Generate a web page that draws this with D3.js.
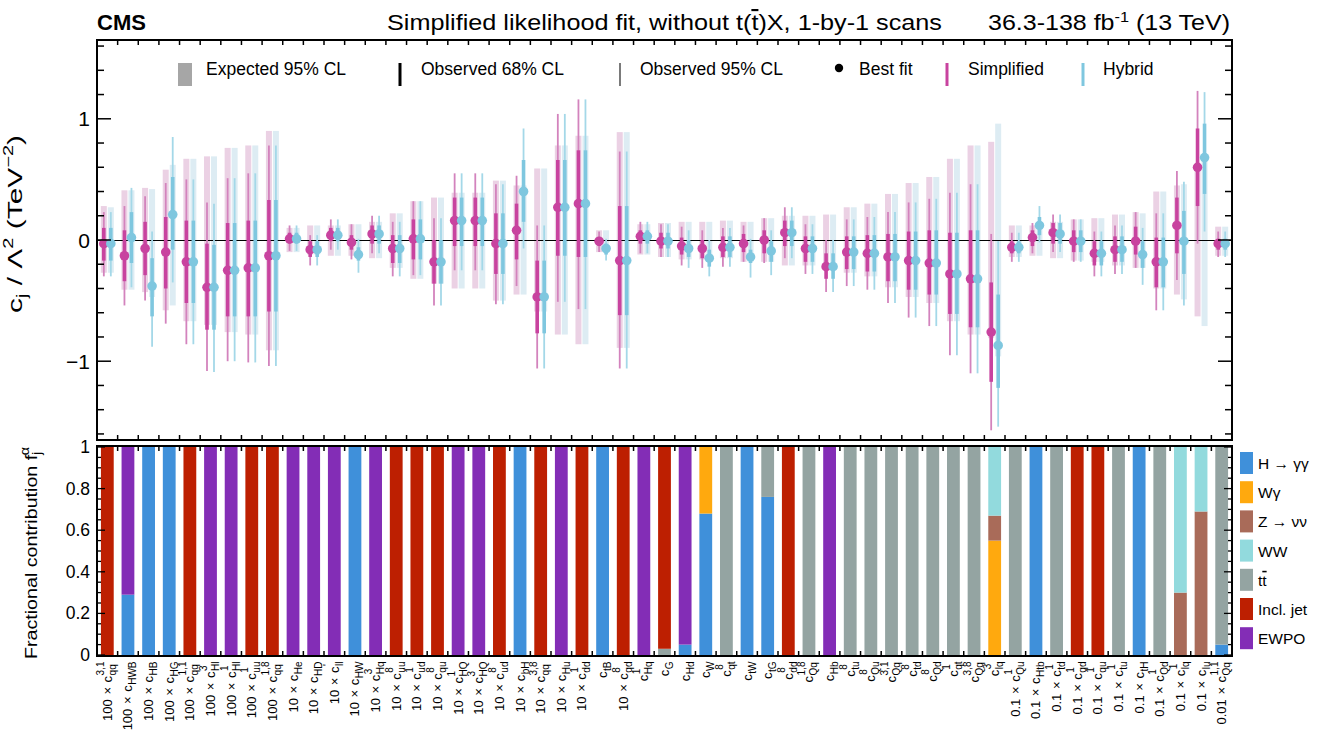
<!DOCTYPE html>
<html>
<head>
<meta charset="utf-8">
<title>SMEFT 1-by-1 scans</title>
<script src="https://cdn.jsdelivr.net/npm/d3@7"></script>
<style>
  body { margin: 0; background: #fff; }
  svg text { font-family: "Liberation Sans", Arial, Helvetica, sans-serif; fill: #000; }
</style>
</head>
<body>
<div id="chart"></div>
<script>
// ---- coefficient labels (scale factor, subscript, superscript) ----
var labelScale = ["100","100","100","100","100","100","100","100","100","10",
                  "10","10","10","10","10","10","10","10","10","10",
                  "10","10","10","10","","10","","","","",
                  "","","","","","","","","","",
                  "","","","","0.1","0.1","0.1","0.1","0.1","0.1",
                  "0.1","0.1","0.1","0.1","0.01"];
var labelSub = ["qq","HWB","HB","HG","qq","Hl","Hl","uu","qq","He",
                "HD","ll","HW","Hq","uu","ud","qu","HQ","HQ","ud",
                "bH","qq","Hu","dd","tB","qd","Hq","G","Hd","W",
                "qt","tW","tG","dd","Qq","Hb","tu","Qu","Qq","td",
                "Qd","qt","Qq","lq","Qu","Htb","td","qd","qu","tu",
                "tH","Qd","lq","lu","Qq"];
var labelSup = ["3,1","","","","1,1","3","1","1","1,8","",
                "","'","","3","8","1","8","1","3","8",
                "","3,8","","1","","8","1","","","",
                "8","","","8","1,8","","8","8","3,1","8",
                "8","1","3,8","3","1","","1","1","1","1",
                "","1","1","","1,1"];

// ---- Simplified likelihood ----
var simBest = [-0.03,-0.13,-0.07,-0.10,-0.18,-0.39,-0.25,-0.23,-0.13,0.01,
               -0.08,0.04,-0.02,0.05,-0.07,0.01,-0.18,0.16,0.16,-0.03,
               0.08,-0.47,0.27,0.30,-0.01,-0.17,0.03,-0.01,-0.05,-0.07,
               -0.06,-0.03,0.00,0.06,-0.07,-0.22,-0.10,-0.11,-0.14,-0.17,
               -0.19,-0.28,-0.32,-0.76,-0.06,0.02,0.06,-0.01,-0.11,-0.08,
               -0.01,-0.18,0.12,0.60,-0.03];
var sim68Lo = [-0.17,-0.34,-0.29,-0.40,-0.52,-0.74,-0.63,-0.63,-0.59,-0.03,
               -0.14,-0.01,-0.08,-0.03,-0.19,-0.16,-0.36,-0.05,-0.05,-0.28,
               -0.16,-0.77,-0.13,-0.14,-0.05,-0.62,-0.03,-0.07,-0.12,-0.15,
               -0.14,-0.10,-0.11,-0.05,-0.18,-0.32,-0.24,-0.26,-0.34,-0.41,
               -0.45,-0.61,-0.72,-1.17,-0.11,-0.05,-0.03,-0.10,-0.21,-0.18,
               -0.12,-0.39,-0.11,0.28,-0.08];
var sim68Hi = [0.10,0.08,0.15,0.19,0.16,-0.03,0.14,0.16,0.33,0.06,
               -0.01,0.10,0.04,0.12,0.04,0.17,0.00,0.35,0.35,0.22,
               0.30,-0.17,0.66,0.74,0.01,0.28,0.08,0.06,0.02,0.00,
               0.03,0.05,0.08,0.16,0.03,-0.11,0.03,0.04,0.05,0.07,
               0.08,0.06,0.08,-0.35,-0.01,0.08,0.14,0.08,-0.01,0.03,
               0.11,0.02,0.35,0.92,0.01];
var sim95Lo = [-0.30,-0.54,-0.50,-0.69,-0.86,-1.08,-1.00,-1.01,-1.04,-0.09,
               -0.21,-0.08,-0.16,-0.11,-0.30,-0.29,-0.54,-0.25,-0.25,-0.53,
               -0.38,-1.06,-0.51,-0.57,-0.10,-1.06,-0.11,-0.14,-0.21,-0.23,
               -0.22,-0.18,-0.19,-0.15,-0.28,-0.43,-0.38,-0.41,-0.52,-0.64,
               -0.71,-0.95,-1.10,-1.57,-0.18,-0.11,-0.10,-0.18,-0.30,-0.28,
               -0.23,-0.58,-0.33,-0.03,-0.14];
var sim95Hi = [0.23,0.28,0.36,0.47,0.50,0.31,0.51,0.55,0.78,0.12,
               0.04,0.17,0.13,0.20,0.15,0.32,0.18,0.55,0.55,0.46,
               0.53,0.12,1.04,1.16,0.07,0.73,0.15,0.13,0.11,0.08,
               0.10,0.12,0.18,0.27,0.13,0.00,0.17,0.19,0.23,0.31,
               0.34,0.39,0.46,0.05,0.06,0.14,0.21,0.17,0.07,0.12,
               0.23,0.22,0.57,1.23,0.07];
var simExpLo = [-0.27,-0.41,-0.43,-0.58,-0.67,-0.70,-0.76,-0.78,-0.91,-0.10,
                -0.12,-0.13,-0.13,-0.15,-0.23,-0.32,-0.36,-0.40,-0.40,-0.50,
                -0.45,-0.59,-0.78,-0.86,-0.10,-0.89,-0.12,-0.14,-0.16,-0.16,
                -0.15,-0.18,-0.18,-0.21,-0.21,-0.21,-0.27,-0.30,-0.39,-0.47,
                -0.52,-0.67,-0.78,-0.81,-0.14,-0.13,-0.15,-0.17,-0.18,-0.21,
                -0.23,-0.40,-0.45,-0.63,-0.13];
var simExpHi = [0.28,0.41,0.43,0.58,0.67,0.69,0.76,0.78,0.90,0.10,
                0.12,0.12,0.13,0.15,0.22,0.32,0.35,0.39,0.39,0.49,
                0.45,0.59,0.78,0.86,0.08,0.89,0.13,0.14,0.15,0.15,
                0.16,0.15,0.18,0.20,0.20,0.21,0.27,0.30,0.38,0.47,
                0.52,0.67,0.78,0.81,0.12,0.12,0.15,0.17,0.18,0.21,
                0.23,0.40,0.45,0.63,0.11];

// ---- Hybrid likelihood ----
var hybBest = [-0.03,0.02,-0.38,0.21,-0.18,-0.39,-0.25,-0.23,-0.13,0.01,
               -0.08,0.04,-0.12,0.05,-0.07,0.01,-0.18,0.16,0.16,-0.03,
               0.40,-0.47,0.27,0.30,-0.07,-0.17,0.03,-0.01,-0.07,-0.15,
               -0.06,-0.14,-0.09,0.06,-0.07,-0.22,-0.10,-0.11,-0.14,-0.17,
               -0.19,-0.28,-0.32,-0.87,-0.06,0.12,0.05,-0.01,-0.11,-0.08,
               -0.12,-0.18,-0.01,0.68,-0.03];
var hyb68Lo = [-0.17,-0.19,-0.63,-0.08,-0.52,-0.74,-0.63,-0.63,-0.59,-0.03,
               -0.14,-0.01,-0.17,-0.03,-0.19,-0.16,-0.36,-0.05,-0.05,-0.28,
               0.15,-0.77,-0.13,-0.14,-0.12,-0.62,-0.03,-0.07,-0.14,-0.22,
               -0.14,-0.19,-0.18,-0.05,-0.18,-0.32,-0.24,-0.26,-0.34,-0.41,
               -0.45,-0.61,-0.72,-1.22,-0.11,0.04,-0.03,-0.10,-0.21,-0.18,
               -0.23,-0.39,-0.28,0.38,-0.08];
var hyb68Hi = [0.10,0.23,-0.15,0.52,0.16,-0.04,0.14,0.16,0.33,0.06,
               -0.01,0.10,-0.06,0.12,0.04,0.17,0.00,0.35,0.35,0.22,
               0.66,-0.17,0.66,0.74,-0.03,0.28,0.08,0.06,0.00,-0.08,
               0.03,-0.08,-0.01,0.16,0.03,-0.11,0.03,0.04,0.05,0.07,
               0.08,0.06,0.08,-0.45,-0.01,0.19,0.14,0.08,-0.01,0.03,
               -0.01,0.02,0.24,0.96,0.01];
var hyb95Lo = [-0.30,-0.39,-0.88,-0.35,-0.86,-1.09,-1.00,-1.01,-1.04,-0.09,
               -0.21,-0.08,-0.27,-0.11,-0.30,-0.29,-0.54,-0.25,-0.25,-0.53,
               -0.07,-1.06,-0.51,-0.57,-0.17,-1.06,-0.11,-0.14,-0.23,-0.30,
               -0.22,-0.31,-0.29,-0.15,-0.28,-0.43,-0.38,-0.41,-0.52,-0.64,
               -0.71,-0.95,-1.10,-1.54,-0.18,-0.02,-0.10,-0.18,-0.30,-0.28,
               -0.37,-0.58,-0.54,0.07,-0.14];
var hyb95Hi = [0.23,0.43,0.07,0.85,0.50,0.30,0.51,0.55,0.78,0.12,
               0.04,0.17,0.01,0.20,0.15,0.32,0.18,0.55,0.55,0.46,
               0.92,0.12,1.04,1.16,0.01,0.73,0.15,0.13,0.08,0.00,
               0.10,0.01,0.08,0.27,0.13,0.00,0.17,0.19,0.23,0.31,
               0.34,0.39,0.46,-0.01,0.06,0.28,0.21,0.17,0.07,0.12,
               0.10,0.22,0.48,1.22,0.07];
var hybExpLo = [-0.27,-0.41,-0.47,-0.54,-0.67,-0.70,-0.76,-0.78,-0.91,-0.10,
                -0.12,-0.13,-0.13,-0.15,-0.23,-0.32,-0.36,-0.40,-0.40,-0.50,
                -0.45,-0.59,-0.78,-0.86,-0.10,-0.89,-0.12,-0.14,-0.16,-0.16,
                -0.15,-0.18,-0.18,-0.21,-0.21,-0.21,-0.27,-0.30,-0.39,-0.47,
                -0.52,-0.67,-0.78,-0.96,-0.14,-0.13,-0.15,-0.17,-0.18,-0.21,
                -0.23,-0.40,-0.49,-0.71,-0.13];
var hybExpHi = [0.27,0.41,0.42,0.62,0.67,0.69,0.76,0.78,0.90,0.10,
                0.12,0.12,0.13,0.15,0.22,0.32,0.35,0.39,0.39,0.49,
                0.45,0.59,0.78,0.86,0.08,0.89,0.13,0.14,0.15,0.15,
                0.16,0.15,0.18,0.20,0.20,0.21,0.27,0.30,0.38,0.47,
                0.52,0.67,0.78,0.96,0.12,0.12,0.15,0.17,0.18,0.21,
                0.22,0.40,0.46,0.71,0.11];

// ---- fractional contributions (bottom panel), stacked in this order ----
var fHgg = [0,0.29,1,1,0, 0,0,0,0,0, 0,0,1,0,0, 0,0,0,0,0, 1,0,0,0,1, 0,0,0,0.05,0.68,
            0,1,0.76,0,0, 0,0,0,0,0, 0,0,0,0,0, 1,0,0,0,0, 1,0,0,0,0.05];
var fWg  = [0,0,0,0,0, 0,0,0,0,0, 0,0,0,0,0, 0,0,0,0,0, 0,0,0,0,0, 0,0,0,0,0.32,
            0,0,0,0,0, 0,0,0,0,0, 0,0,0,0.55,0, 0,0,0,0,0, 0,0,0,0,0];
var fZnn = [0,0,0,0,0, 0,0,0,0,0, 0,0,0,0,0, 0,0,0,0,0, 0,0,0,0,0, 0,0,0,0,0,
            0,0,0,0,0, 0,0,0,0,0, 0,0,0,0.12,0, 0,0,0,0,0, 0,0,0.30,0.69,0];
var fWW  = [0,0,0,0,0, 0,0,0,0,0, 0,0,0,0,0, 0,0,0,0,0, 0,0,0,0,0, 0,0,0,0,0,
            0,0,0,0,0, 0,0,0,0,0, 0,0,0,0.33,0, 0,0,0,0,0, 0,0,0.70,0.31,0];
var fTT  = [0,0,0,0,0, 0,0,0,0,0, 0,0,0,0,0, 0,0,0,0,0, 0,0,0,0,0, 0,0,0.03,0,0,
            1,0,0.24,0,1, 0,1,1,1,1, 1,1,1,0,1, 0,1,0,0,1, 0,1,0,0,0.95];
var fJet = [1,0,0,0,1, 0,0,1,1,0, 0,0,0,0,1, 1,1,0,0,1, 0,1,0,1,0, 1,0,0.97,0,0,
            0,0,0,1,0, 0,0,0,0,0, 0,0,0,0,0, 0,0,1,1,0, 0,0,0,0,0];
var fEWPO= [0,0.71,0,0,0, 1,1,0,0,1, 1,1,0,1,0, 0,0,1,1,0, 0,0,1,0,0, 0,1,0,0.95,0,
            0,0,0,0,0, 1,0,0,0,0, 0,0,0,0,0, 0,0,0,0,0, 0,0,0,0,0];

var groupNames = ["H \u2192 \u03b3\u03b3", "W\u03b3", "Z \u2192 \u03bd\u03bd", "WW", "tt", "Incl. jet", "EWPO"];
var groupColors = ["#3f90da", "#ffa90e", "#a96b59", "#92dadd", "#94a4a2", "#bd1f01", "#832db6"];
var groupFracs = [fHgg, fWg, fZnn, fWW, fTT, fJet, fEWPO];

var topTicksMajor = [-1, 0, 1];
var botTicksMajor = [0, 0.2, 0.4, 0.6, 0.8, 1];

// --------------------------------------------------------------------
var W = 1320, H = 733;
var x0 = 97, x1 = 1232;
var pinkC = "#c8439f", pinkThin = "#d383bd", pinkBand = "#ebd1e4";
var blueC = "#7fc7df", blueThin = "#a4d8e8", blueBand = "#ddecf3";

var svg = d3.select("#chart").append("svg").attr("width", W).attr("height", H);

var n = labelSub.length;
var x = d3.scaleBand().domain(d3.range(n)).range([x0, x1]).padding(0);
var y = d3.scaleLinear().domain([-1.65, 1.65]).range([440, 40]);
var yb = d3.scaleLinear().domain([0, 1]).range([655, 447]);
var cw = x.bandwidth();

// the original font is a bit wider than Liberation Sans: stretch the glyphs to its width
function stretch(t, target) {
  t.attr("textLength", target).attr("lengthAdjust", "spacingAndGlyphs");
}

// ---------- header ----------
svg.append("text").attr("x", 97).attr("y", 30).style("font-size", "22px")
  .style("font-weight", "bold").text("CMS");
var title = svg.append("text").attr("x", 387).attr("y", 30).style("font-size", "21.5px");
title.append("tspan").text("Simplified likelihood fit, without t(");
title.append("tspan").style("text-decoration", "overline").text("t");
title.append("tspan").text(")X, 1-by-1 scans");
stretch(title, 555);
var lumi = svg.append("text").attr("x", 988).attr("y", 30).style("font-size", "21.5px");
lumi.append("tspan").text("36.3-138 fb");
lumi.append("tspan").attr("dy", -8).style("font-size", "14px").text("-1");
lumi.append("tspan").attr("dy", 8).text(" (13 TeV)");
stretch(lumi, 242);

// ---------- top panel ----------
var topG = svg.append("g");

// expected bands
[[simExpLo, simExpHi, -1, pinkBand], [hybExpLo, hybExpHi, 1, blueBand]].forEach(function (s) {
  topG.selectAll(null).data(d3.range(n)).enter().append("rect")
    .attr("x", function (i) { return x(i) + cw / 2 + s[2] * 3.5 - 3; })
    .attr("width", 6)
    .attr("y", function (i) { return y(s[1][i]); })
    .attr("height", function (i) { return y(s[0][i]) - y(s[1][i]); })
    .attr("fill", s[3]);
});

topG.append("line").attr("x1", x0).attr("x2", x1).attr("y1", y(0) + 0.5).attr("y2", y(0) + 0.5)
  .attr("stroke", "#000").attr("stroke-width", 1).attr("shape-rendering", "crispEdges");

var series = [
  {best: simBest, lo68: sim68Lo, hi68: sim68Hi, lo95: sim95Lo, hi95: sim95Hi, off: -3.5, c: pinkC, thin: pinkThin},
  {best: hybBest, lo68: hyb68Lo, hi68: hyb68Hi, lo95: hyb95Lo, hi95: hyb95Hi, off: 3.5, c: blueC, thin: blueThin}
];
series.forEach(function (s) {
  var g = topG.append("g");
  var cx = function (i) { return x(i) + cw / 2 + s.off; };
  g.selectAll(null).data(d3.range(n)).enter().append("line")
    .attr("x1", cx).attr("x2", cx)
    .attr("y1", function (i) { return y(s.hi95[i]); })
    .attr("y2", function (i) { return y(s.lo95[i]); })
    .attr("stroke", s.thin).attr("stroke-width", 1.8);
  g.selectAll(null).data(d3.range(n)).enter().append("line")
    .attr("x1", cx).attr("x2", cx)
    .attr("y1", function (i) { return y(s.hi68[i]); })
    .attr("y2", function (i) { return y(s.lo68[i]); })
    .attr("stroke", s.c).attr("stroke-width", 3.6);
  g.selectAll(null).data(d3.range(n)).enter().append("circle")
    .attr("cx", cx).attr("cy", function (i) { return y(s.best[i]); })
    .attr("r", 4.8).attr("fill", s.c);
});

// frame + ticks of top panel
topG.append("rect").attr("x", x0).attr("y", 40).attr("width", x1 - x0).attr("height", 400)
  .attr("fill", "none").attr("stroke", "#000").attr("stroke-width", 2);
var colEdges = d3.range(1, n);
colEdges.forEach(function (k) {
  var xx = x0 + k * cw;
  topG.append("line").attr("x1", xx).attr("x2", xx).attr("y1", 40).attr("y2", 45).attr("stroke", "#000").attr("stroke-width", 1.5);
  topG.append("line").attr("x1", xx).attr("x2", xx).attr("y1", 440).attr("y2", 435).attr("stroke", "#000").attr("stroke-width", 1.5);
});
y.ticks(16).forEach(function (v) {
  var major = topTicksMajor.indexOf(Math.round(v * 100) / 100) >= 0;
  var len = major ? 14 : 7;
  topG.append("line").attr("x1", x0).attr("x2", x0 + len).attr("y1", y(v)).attr("y2", y(v)).attr("stroke", "#000").attr("stroke-width", 1.5);
  topG.append("line").attr("x1", x1).attr("x2", x1 - len).attr("y1", y(v)).attr("y2", y(v)).attr("stroke", "#000").attr("stroke-width", 1.5);
});
topTicksMajor.forEach(function (v) {
  topG.append("text").attr("x", 90).attr("y", y(v) + 7.5).attr("text-anchor", "end")
    .style("font-size", "21px").text(v < 0 ? "\u2212" + Math.abs(v) : v);
});

// y title top
var yt = svg.append("text").attr("transform", "translate(22,224) rotate(-90)")
  .attr("text-anchor", "middle").style("font-size", "21px");
yt.append("tspan").text("c");
yt.append("tspan").attr("dy", 5).style("font-size", "14px").text("j");
yt.append("tspan").attr("dy", -5).text(" / \u039b");
yt.append("tspan").attr("dy", -9).style("font-size", "14px").text("2");
yt.append("tspan").attr("dy", 9).text(" (TeV");
yt.append("tspan").attr("dy", -9).style("font-size", "14px").text("\u22122");
yt.append("tspan").attr("dy", 9).text(")");
stretch(yt, 178);

// top legend
var lg = svg.append("g").style("font-size", "17.5px");
lg.append("rect").attr("x", 178).attr("y", 63).attr("width", 14).attr("height", 23).attr("fill", "#a6a6a6");
lg.append("text").attr("x", 206).attr("y", 75).text("Expected 95% CL");
lg.append("line").attr("x1", 400).attr("x2", 400).attr("y1", 63).attr("y2", 86).attr("stroke", "#000").attr("stroke-width", 3);
lg.append("text").attr("x", 421).attr("y", 75).text("Observed 68% CL");
lg.append("line").attr("x1", 620).attr("x2", 620).attr("y1", 63).attr("y2", 86).attr("stroke", "#333").attr("stroke-width", 1.3);
lg.append("text").attr("x", 640).attr("y", 75).text("Observed 95% CL");
lg.append("circle").attr("cx", 839).attr("cy", 68).attr("r", 4.2).attr("fill", "#000");
lg.append("text").attr("x", 859).attr("y", 75).text("Best fit");
lg.append("line").attr("x1", 947).attr("x2", 947).attr("y1", 63).attr("y2", 86).attr("stroke", pinkC).attr("stroke-width", 3);
lg.append("text").attr("x", 968).attr("y", 75).text("Simplified");
lg.append("line").attr("x1", 1083).attr("x2", 1083).attr("y1", 63).attr("y2", 86).attr("stroke", blueC).attr("stroke-width", 3);
lg.append("text").attr("x", 1103).attr("y", 75).text("Hybrid");

// ---------- bottom panel ----------
var botG = svg.append("g");
var stacks = d3.range(n).map(function (i) {
  var acc = 0;
  return groupFracs.map(function (f, g) {
    var seg = {i: i, g: g, y0: acc, y1: acc + f[i]};
    acc += f[i];
    return seg;
  }).filter(function (s) { return s.y1 > s.y0; });
});
var bw = cw * 0.62;
botG.selectAll("g.col").data(stacks).enter().append("g").attr("class", "col")
  .selectAll("rect").data(function (d) { return d; }).enter().append("rect")
  .attr("x", function (s) { return x(s.i) + (cw - bw) / 2; })
  .attr("width", bw)
  .attr("y", function (s) { return yb(s.y1); })
  .attr("height", function (s) { return yb(s.y0) - yb(s.y1); })
  .attr("fill", function (s) { return groupColors[s.g]; });

botG.append("rect").attr("x", x0).attr("y", 446).attr("width", x1 - x0).attr("height", 210)
  .attr("fill", "none").attr("stroke", "#000").attr("stroke-width", 2);
colEdges.forEach(function (k) {
  var xx = x0 + k * cw;
  botG.append("line").attr("x1", xx).attr("x2", xx).attr("y1", 446).attr("y2", 451).attr("stroke", "#000").attr("stroke-width", 1.5);
  botG.append("line").attr("x1", xx).attr("x2", xx).attr("y1", 656).attr("y2", 651).attr("stroke", "#000").attr("stroke-width", 1.5);
});
yb.ticks(20).forEach(function (v) {
  var major = botTicksMajor.some(function (m) { return Math.abs(m - v) < 1e-6; });
  var len = major ? 8 : 4;
  botG.append("line").attr("x1", x0).attr("x2", x0 + len).attr("y1", yb(v)).attr("y2", yb(v)).attr("stroke", "#000").attr("stroke-width", 1.3);
  botG.append("line").attr("x1", x1).attr("x2", x1 - len).attr("y1", yb(v)).attr("y2", yb(v)).attr("stroke", "#000").attr("stroke-width", 1.3);
});
botTicksMajor.forEach(function (v) {
  botG.append("text").attr("x", 90).attr("y", yb(v) + 6).attr("text-anchor", "end")
    .style("font-size", "17.5px").text(v === 0 || v === 1 ? v : d3.format(".1f")(v));
});

var ybt = svg.append("text").attr("transform", "translate(37,553) rotate(-90)")
  .attr("text-anchor", "middle").style("font-size", "16.5px");
ybt.append("tspan").text("Fractional contribution f");
ybt.append("tspan").attr("dy", 4).style("font-size", "12px").text("j");
ybt.append("tspan").attr("dy", -12).attr("dx", -3).style("font-size", "12px").text("\u03b1");
stretch(ybt, 212);

// right legend
var rl = svg.append("g").style("font-size", "15.5px");
groupNames.forEach(function (name, g) {
  var cy = 463 + g * 29.2;
  rl.append("rect").attr("x", 1240).attr("y", cy - 11).attr("width", 13).attr("height", 22).attr("fill", groupColors[g]);
  var t = rl.append("text").attr("x", 1258).attr("y", cy + 6);
  if (name === "tt") {
    t.append("tspan").text("t");
    t.append("tspan").style("text-decoration", "overline").text("t");
  } else {
    t.text(name);
  }
});

// x labels (rotated)
var lab = svg.append("g");
d3.range(n).forEach(function (i) {
  var g = lab.append("g").attr("transform", "translate(" + (x(i) + cw / 2) + ",661) rotate(-90)");
  var main = g.append("text").attr("y", 4.5).style("font-size", "13px").style("word-spacing", "1px")
    .text(labelScale[i] ? labelScale[i] + " \u00d7 c" : "c");
  var sub = g.append("text").attr("y", 8.5).style("font-size", "10px").text(labelSub[i]);
  var sup = g.append("text").attr("y", -3.5).style("font-size", "10px").text(labelSup[i]);
  var mw = main.node().getComputedTextLength();
  var sw = sub.node().getComputedTextLength();
  var pw = labelSup[i] ? sup.node().getComputedTextLength() : 0;
  var total = mw + Math.max(sw, pw) + 1;
  main.attr("x", -total);
  sub.attr("x", -total + mw + 0.5);
  sup.attr("x", -total + mw + 0.5);
});
</script>
</body>
</html>
